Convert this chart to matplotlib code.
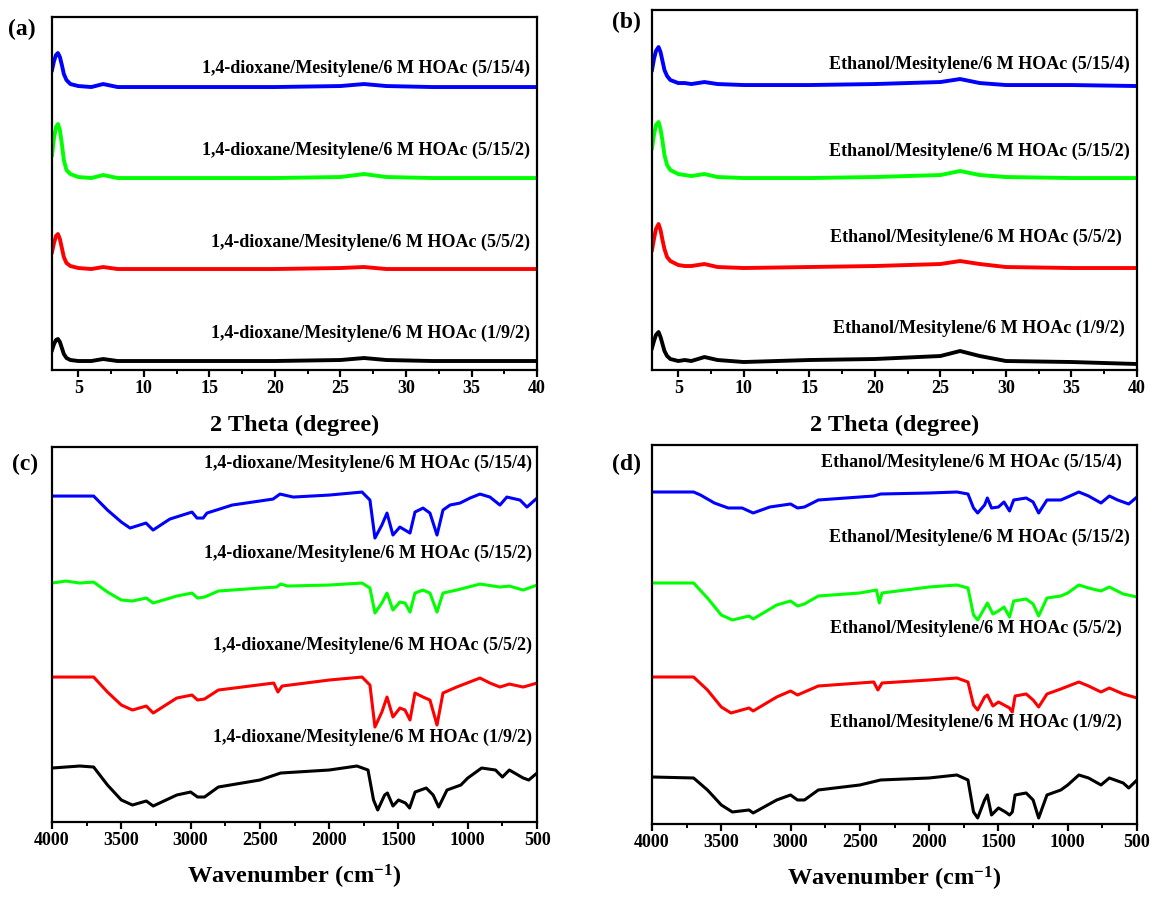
import numpy as np
import matplotlib
matplotlib.use('Agg')
import matplotlib.pyplot as plt
from matplotlib.ticker import MultipleLocator

plt.rcParams['font.family'] = 'Liberation Serif'
plt.rcParams['font.weight'] = 'bold'
plt.rcParams['mathtext.fontset'] = 'custom'
plt.rcParams['mathtext.rm'] = 'Liberation Serif:bold'
plt.rcParams['mathtext.bf'] = 'Liberation Serif:bold'
plt.rcParams['mathtext.default'] = 'rm'

### datos XRD (2 theta) -- intensidad apilada, unidades arbitrarias
tt_a = [3.0, 3.15, 3.3, 3.45, 3.6, 3.75, 3.9, 4.1, 4.4, 5.0, 6.0, 6.9, 8.0, 12, 20, 25, 26.8, 28.5, 32, 40]
xrd_a_1_9_2  = [20, 26, 30, 31, 28, 22, 16, 12, 10, 9, 9, 11, 9, 9, 9, 10, 12, 10, 9, 9]
xrd_a_5_5_2  = [118, 127, 134, 136, 131, 122, 113, 107, 104, 102, 101, 103, 101, 101, 101, 102, 103, 101, 101, 101]
xrd_a_5_15_2 = [215, 232, 243, 246, 240, 226, 210, 200, 196, 193, 192, 195, 192, 192, 192, 193, 196, 193, 192, 192]
xrd_a_5_15_4 = [300, 309, 315, 317, 313, 305, 296, 290, 286, 284, 283, 286, 283, 283, 283, 284, 286, 284, 283, 283]

tt_b = [3.0, 3.15, 3.3, 3.5, 3.65, 3.8, 3.95, 4.15, 4.4, 5.0, 5.5, 6.0, 7.0, 8.0, 10, 15, 20, 25, 26.5, 28, 30, 35, 40]
xrd_b_1_9_2  = [22, 29, 35, 38, 33, 26, 19, 14, 11, 9, 10, 9, 13, 10, 8, 10, 11, 14, 19, 14, 9, 8, 6]
xrd_b_5_5_2  = [120, 131, 141, 146, 140, 130, 121, 113, 109, 105, 104, 104, 106, 103, 102, 103, 104, 106, 109, 106, 103, 102, 102]
xrd_b_5_15_2 = [222, 235, 245, 248, 241, 229, 215, 205, 200, 196, 195, 194, 196, 193, 192, 192, 193, 195, 199, 195, 193, 192, 192]
xrd_b_5_15_4 = [300, 311, 319, 323, 318, 309, 300, 294, 290, 287, 287, 286, 288, 286, 285, 285, 286, 288, 291, 287, 285, 285, 284]

### datos FTIR -- transmitancia apilada, unidades arbitrarias
wn_c_blue = [4000, 3700, 3600, 3500, 3437, 3322, 3271, 3150, 2990, 2954, 2910, 2882, 2700, 2405, 2355, 2260,
             2000, 1763, 1706, 1670, 1620, 1583, 1540, 1490, 1453, 1417, 1381, 1323, 1273, 1222, 1179, 1128,
             1056, 984, 912, 840, 768, 718, 623, 573, 500]
ir_c_5_15_4 = [326, 326, 312, 300, 294, 299, 292, 303, 310, 304, 304, 309, 317, 323, 328, 325,
               327, 330, 322, 284, 297, 309, 287, 295, 292, 289, 310, 314, 309, 287, 312, 317,
               319, 324, 328, 325, 317, 325, 322, 315, 324]

wn_c_green = [4000, 3900, 3800, 3700, 3600, 3500, 3420, 3320, 3270, 3100, 2990, 2950, 2900, 2800, 2500, 2380,
              2350, 2300, 2000, 1763, 1706, 1670, 1620, 1583, 1540, 1490, 1453, 1417, 1381, 1323, 1273, 1222,
              1179, 1080, 912, 768, 700, 600, 500]
ir_c_5_15_2 = [239, 241, 239, 240, 230, 222, 221, 224, 219, 226, 229, 224, 225, 231, 234, 235,
               238, 236, 237, 239, 234, 209, 219, 229, 212, 220, 219, 210, 229, 232, 229, 210,
               229, 232, 238, 235, 236, 232, 237]

wn_c_red = [4000, 3700, 3600, 3500, 3420, 3320, 3270, 3100, 2990, 2950, 2900, 2800, 2400, 2370, 2340, 2000,
            1763, 1706, 1670, 1620, 1583, 1540, 1490, 1453, 1417, 1381, 1323, 1273, 1222, 1179, 1080, 912,
            840, 768, 700, 600, 500]
ir_c_5_5_2 = [145, 145, 130, 117, 112, 116, 109, 124, 127, 122, 123, 132, 139, 130, 136, 142,
              145, 137, 95, 110, 125, 105, 114, 112, 102, 129, 125, 122, 97, 129, 135, 144,
              139, 135, 138, 135, 139]

wn_c_black = [4000, 3800, 3700, 3600, 3500, 3420, 3320, 3270, 3100, 3000, 2950, 2900, 2800, 2500, 2350, 2000,
              1800, 1720, 1680, 1650, 1600, 1580, 1540, 1500, 1450, 1420, 1380, 1300, 1250, 1210, 1150, 1050,
              1000, 900, 800, 750, 700, 600, 560, 500]
ir_c_1_9_2 = [54, 56, 55, 37, 22, 17, 21, 16, 27, 30, 25, 25, 35, 42, 49, 52,
              56, 52, 22, 12, 27, 29, 16, 22, 19, 14, 30, 34, 27, 15, 32, 37,
              44, 54, 52, 45, 52, 44, 42, 49]

wn_d_blue = [4000, 3700, 3650, 3550, 3450, 3350, 3270, 3150, 3000, 2950, 2900, 2800, 2400, 2350, 2000, 1800,
             1720, 1680, 1650, 1600, 1580, 1550, 1500, 1460, 1420, 1390, 1300, 1250, 1210, 1150, 1050, 1000,
             920, 850, 760, 700, 640, 560, 500]
ir_d_5_15_4 = [332, 332, 329, 321, 316, 316, 311, 317, 320, 316, 317, 324, 328, 330, 331, 332,
               330, 316, 311, 319, 326, 316, 317, 322, 313, 324, 326, 322, 311, 324, 324, 327,
               332, 328, 321, 328, 324, 320, 327]

wn_d_green = [4000, 3700, 3600, 3500, 3420, 3300, 3270, 3100, 3000, 2950, 2900, 2800, 2500, 2380, 2360, 2340,
              2000, 1800, 1720, 1680, 1650, 1600, 1580, 1540, 1500, 1460, 1420, 1390, 1300, 1250, 1210, 1150,
              1050, 1000, 920, 850, 760, 700, 600, 500]
ir_d_5_15_2 = [241, 241, 226, 209, 204, 208, 205, 219, 223, 218, 220, 228, 231, 234, 221, 231,
               237, 239, 236, 209, 204, 216, 221, 210, 213, 217, 207, 223, 225, 220, 208, 226,
               228, 231, 239, 236, 233, 237, 230, 227]

wn_d_red = [4000, 3700, 3600, 3500, 3430, 3300, 3270, 3100, 3000, 2950, 2800, 2400, 2370, 2340, 2000, 1800,
            1720, 1680, 1650, 1600, 1580, 1540, 1500, 1460, 1420, 1400, 1380, 1300, 1250, 1210, 1150, 1050,
            920, 850, 760, 700, 600, 500]
ir_d_5_5_2 = [147, 147, 134, 117, 111, 116, 113, 127, 133, 129, 138, 142, 134, 141, 144, 146,
              142, 119, 114, 127, 129, 118, 122, 119, 116, 112, 128, 130, 124, 117, 130, 135,
              142, 138, 132, 136, 130, 126]

wn_d_black = [4000, 3700, 3600, 3500, 3420, 3300, 3270, 3100, 3000, 2950, 2900, 2800, 2500, 2350, 2000, 1800,
              1720, 1680, 1650, 1600, 1580, 1550, 1500, 1450, 1420, 1400, 1380, 1300, 1250, 1210, 1150, 1050,
              1000, 920, 850, 760, 700, 600, 560, 500]
ir_d_1_9_2 = [47, 46, 34, 19, 12, 14, 11, 24, 29, 24, 24, 34, 39, 44, 46, 49,
              44, 12, 6, 24, 29, 9, 16, 12, 9, 12, 29, 31, 24, 6, 29, 34,
              39, 49, 46, 39, 46, 41, 36, 44]

lab_a = ['1,4-dioxane/Mesitylene/6 M HOAc (5/15/4)', '1,4-dioxane/Mesitylene/6 M HOAc (5/15/2)',
         '1,4-dioxane/Mesitylene/6 M HOAc (5/5/2)', '1,4-dioxane/Mesitylene/6 M HOAc (1/9/2)']
lab_b = ['Ethanol/Mesitylene/6 M HOAc (5/15/4)', 'Ethanol/Mesitylene/6 M HOAc (5/15/2)',
         'Ethanol/Mesitylene/6 M HOAc (5/5/2)', 'Ethanol/Mesitylene/6 M HOAc (1/9/2)']
colores = ['#0000FF', '#00FF00', '#FF0000', '#000000']


def estilo_ejes(ax, xmin, xmax, major, minor):
    ax.set_xlim(xmin, xmax)
    ax.xaxis.set_major_locator(MultipleLocator(major))
    ax.xaxis.set_minor_locator(MultipleLocator(minor))
    ax.set_yticks([])
    for s in ax.spines.values():
        s.set_linewidth(1.6)
    ax.tick_params(axis='x', which='major', direction='out', length=5, width=1.6,
                   labelsize=13, pad=2, top=False)
    ax.tick_params(axis='x', which='minor', direction='out', length=3, width=1.4, top=False)
    for t in ax.get_xticklabels():
        t.set_fontweight('bold')


def etiquetas(ax, labels, xs, ys):
    for lab, x, y in zip(labels, xs, ys):
        ax.text(x, y, lab, transform=ax.transAxes, ha='right', va='center',
                fontsize=13, fontweight='bold')


fig = plt.figure(figsize=(11.54, 8.97), dpi=100)

### [a]: XRD 1,4-dioxano
ax = fig.add_axes([0.0451, 0.5875, 0.4203, 0.3935])
for y, c in zip([xrd_a_5_15_4, xrd_a_5_15_2, xrd_a_5_5_2, xrd_a_1_9_2], colores):
    ax.plot(tt_a, y, color=c, linewidth=2.8)
ax.set_ylim(0, 353)
estilo_ejes(ax, 3, 40, 5, 2.5)
ax.set_xlabel('2 Theta (degree)', fontsize=17.5, fontweight='bold', labelpad=13)
etiquetas(ax, lab_a, [0.986] * 4, [0.855, 0.623, 0.363, 0.105])

### [b]: XRD etanol
ax = fig.add_axes([0.565, 0.5875, 0.4203, 0.4013])
for y, c in zip([xrd_b_5_15_4, xrd_b_5_15_2, xrd_b_5_5_2, xrd_b_1_9_2], colores):
    ax.plot(tt_b, y, color=c, linewidth=2.8)
ax.set_ylim(0, 360)
estilo_ejes(ax, 3, 40, 5, 2.5)
ax.set_xlabel('2 Theta (degree)', fontsize=17.5, fontweight='bold', labelpad=13)
etiquetas(ax, lab_b, [0.985, 0.985, 0.969, 0.975], [0.85, 0.608, 0.369, 0.117])

### [c]: FTIR 1,4-dioxano
ax = fig.add_axes([0.0451, 0.0836, 0.4203, 0.418])
ax.plot(wn_c_blue, ir_c_5_15_4, color=colores[0], linewidth=2.2)
ax.plot(wn_c_green, ir_c_5_15_2, color=colores[1], linewidth=2.2)
ax.plot(wn_c_red, ir_c_5_5_2, color=colores[2], linewidth=2.2)
ax.plot(wn_c_black, ir_c_1_9_2, color=colores[3], linewidth=2.2)
ax.set_ylim(0, 375)
estilo_ejes(ax, 4000, 500, 500, 250)
ax.set_xlabel('Wavenumber (cm$^{-1}$)', fontsize=17.5, fontweight='bold', labelpad=10)
etiquetas(ax, lab_a, [0.99] * 4, [0.957, 0.717, 0.472, 0.227])

### [d]: FTIR etanol
ax = fig.add_axes([0.565, 0.0814, 0.4203, 0.4225])
ax.plot(wn_d_blue, ir_d_5_15_4, color=colores[0], linewidth=2.2)
ax.plot(wn_d_green, ir_d_5_15_2, color=colores[1], linewidth=2.2)
ax.plot(wn_d_red, ir_d_5_5_2, color=colores[2], linewidth=2.2)
ax.plot(wn_d_black, ir_d_1_9_2, color=colores[3], linewidth=2.2)
ax.set_ylim(0, 379)
estilo_ejes(ax, 4000, 500, 500, 250)
ax.set_xlabel('Wavenumber (cm$^{-1}$)', fontsize=17.5, fontweight='bold', labelpad=10)
etiquetas(ax, lab_b, [0.969, 0.985, 0.969, 0.969], [0.955, 0.757, 0.517, 0.269])

# etiquetas de panel
for txt, x, y in [('(a)', 0.007, 0.967), ('(b)', 0.530, 0.975), ('(c)', 0.010, 0.482), ('(d)', 0.530, 0.482)]:
    fig.text(x, y, txt, fontsize=17, fontweight='bold', va='center')

fig.savefig('out.png', dpi=100)
